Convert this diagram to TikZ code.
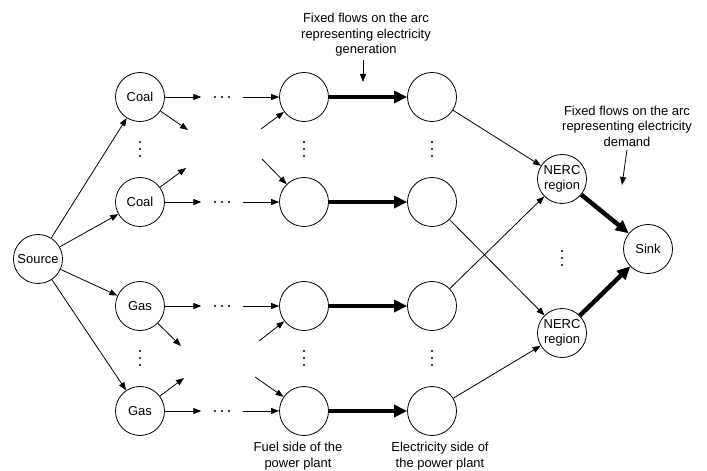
\documentclass[tikz,border=0pt]{standalone}
\usepackage{fontspec}
\setmainfont{Liberation Sans}
\usepackage{tikz}
\usetikzlibrary{arrows.meta,positioning}
\newcommand{\vdotsat}[1]{%
  \foreach \off in {-7,0,7} \fill ([yshift=\off bp]#1) circle (1.1bp);
}
\newcommand{\hdotsat}[1]{%
  \foreach \off in {-7,0,7} \fill ([xshift=\off bp]#1) circle (1.1bp);
}

\begin{document}
\begin{tikzpicture}[x=1bp, y=-1bp, font=\fontsize{13}{15.5}\selectfont,
    nd/.style={draw, circle, line width=0.8bp, minimum size=49bp, inner sep=0pt, align=center},
    flow/.style={line width=0.8bp, -{Triangle[length=8bp,width=6bp]}},
    fixed/.style={line width=4.5bp, -{Triangle[length=13bp,width=12bp]}},
    gap/.style={minimum width=41bp, minimum height=4bp, inner sep=0pt}]
        \useasboundingbox (0,0) rectangle (707,471);
        \node[nd] (src) at (38,259) {Source};
        \foreach \n/\y/\f in {1/97/Coal,2/202/Coal,3/306/Gas,4/411/Gas} {
          \node[nd] (c\n) at (140,\y) {\f};
          \node[nd] (p\n) at (304,\y) {};
          \node[nd] (e\n) at (432,\y) {};
          \node[gap] (h\n) at (222,\y) {};
          \hdotsat{h\n}
          \draw[flow] (src) -- (c\n);
          \draw[flow] (c\n) -- (h\n);
          \draw[flow] (h\n) -- (p\n);
          \draw[fixed] (p\n) -- (e\n);
        }
        \foreach \n/\ox/\oy/\ix/\iy in {1/188/130/261/129,2/186/168/262/159,3/181/346/259/341,4/184/378/255/377} {
          \coordinate (o\n) at (\ox,\oy);
          \coordinate (i\n) at (\ix,\iy);
          \draw[flow] (c\n) -- (o\n);
          \draw[flow] (i\n) -- (p\n);
        }
        \foreach \x in {140,304,432} {
          \coordinate (va\x) at (\x,149);
          \coordinate (vb\x) at (\x,358);
          \vdotsat{va\x}
          \vdotsat{vb\x}
        }
        \node[nd] (r1) at (562,179) {NERC\\region};
        \node[nd] (r2) at (562,333) {NERC\\region};
        \node[nd] (snk) at (648,249) {Sink};
        \coordinate (vr) at (562,258);
        \vdotsat{vr}
        \draw[flow] (e1) -- (r1);
        \draw[flow] (e3) -- (r1);
        \draw[flow] (e2) -- (r2);
        \draw[flow] (e4) -- (r2);
        \draw[fixed] (r1) -- (snk);
        \draw[fixed] (r2) -- (snk);
        \node[align=center] (gen) at (366,35) {Fixed flows on the arc\\representing electricity\\generation};
        \coordinate (gentip) at (363,82);
        \draw[flow] (gen.south -| gentip) -- (gentip);
        \node[align=center] (dem) at (627,126) {Fixed flows on the arc\\representing electricity\\demand};
        \coordinate (demtip) at (622,185);
        \draw[flow] (dem.south) -- (demtip);
        \node[align=center] (fuel) at (298,456) {Fuel side of the\\power plant};
        \node[align=center] (elec) at (440,456) {Electricity side of\\the power plant};
      \end{tikzpicture}
\end{document}
